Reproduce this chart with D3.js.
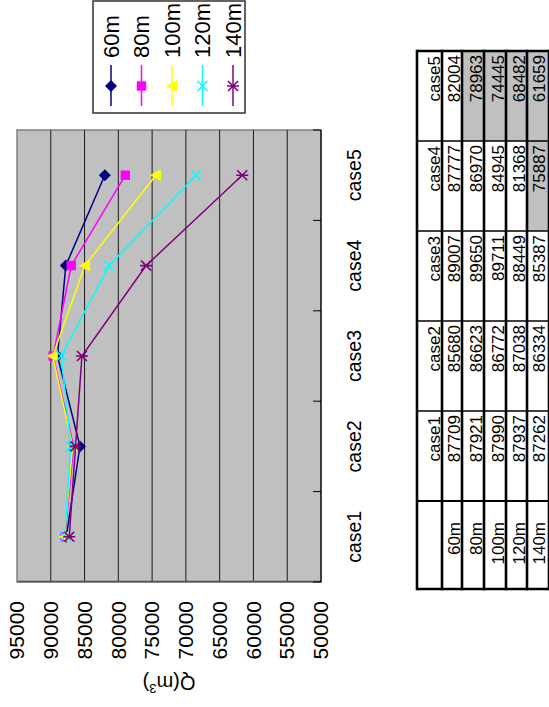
<!DOCTYPE html>
<html>
<head>
<meta charset="utf-8">
<script src="https://cdn.jsdelivr.net/npm/d3@7/dist/d3.min.js"></script>
<style>
  html, body { margin: 0; padding: 0; background: #fff; }
  svg { display: block; font-family: "Liberation Sans", Arial, sans-serif; }
</style>
</head>
<body>
<svg id="chart" width="549" height="707"></svg>
<script>
// Discharge volume Q (m³) per case, one series per depth
const categories = ["case1", "case2", "case3", "case4", "case5"];
const seriesNames = ["60m", "80m", "100m", "120m", "140m"];
const values60m  = [87709, 85680, 89007, 87777, 82004];
const values80m  = [87921, 86623, 89650, 86970, 78963];
const values100m = [87990, 86772, 89711, 84945, 74445];
const values120m = [87937, 87038, 88449, 81368, 68482];
const values140m = [87262, 86334, 85387, 75887, 61659];
const valueTicks = [95000, 90000, 85000, 80000, 75000, 70000, 65000, 60000, 55000, 50000];
const seriesColors = ["#000080", "#FF00FF", "#FFFF00", "#00FFFF", "#800080"];
const markerKinds = ["diamond", "square", "triangle", "x", "star"];

const seriesValues = [values60m, values80m, values100m, values120m, values140m];
const series = seriesNames.map((name, i) => ({
  name, color: seriesColors[i], marker: markerKinds[i], values: seriesValues[i]
}));

// The whole sheet is laid out 707 wide x 549 tall and turned a quarter turn
const W = 707, H = 549;
const svg = d3.select("#chart");
const root = svg.append("g").attr("transform", `translate(0,${W}) rotate(-90)`);

const plot = { left: 125, right: 577, top: 17, bottom: 321 };

const x = d3.scaleBand().domain(categories).range([plot.left, plot.right]);
const y = d3.scaleLinear().domain([50000, 95000]).range([plot.bottom, plot.top]);

// plot area
root.append("rect")
  .attr("x", plot.left).attr("y", plot.top)
  .attr("width", plot.right - plot.left).attr("height", plot.bottom - plot.top)
  .attr("fill", "#C0C0C0").attr("stroke", "#808080").attr("stroke-width", 1.5);

// horizontal gridlines
root.append("g").selectAll("line")
  .data(valueTicks.filter(v => v !== 95000 && v !== 50000))
  .join("line")
  .attr("x1", plot.left).attr("x2", plot.right)
  .attr("y1", d => y(d)).attr("y2", d => y(d))
  .attr("stroke", "#1a1a1a").attr("stroke-width", 1);

// value axis labels
const yAxis = d3.axisLeft(y).tickValues(valueTicks).tickSize(0).tickPadding(19)
  .tickFormat(d3.format("d"));
const yg = root.append("g").attr("transform", `translate(${plot.left},0)`).call(yAxis);
yg.select(".domain").attr("stroke", "#505050").attr("stroke-width", 1.5);
yg.selectAll("text").attr("font-size", 21).attr("fill", "#000")
  .attr("font-family", "'Liberation Sans', Arial, sans-serif");

// category axis with inward ticks at band edges
const xg = root.append("g").attr("transform", `translate(0,${plot.bottom})`);
xg.append("line").attr("x1", plot.left).attr("x2", plot.right)
  .attr("stroke", "#000").attr("stroke-width", 1.2);
const edges = categories.map(c => x(c)).concat([x(categories[categories.length - 1]) + x.bandwidth()]);
xg.selectAll("line.tick").data(edges).join("line").attr("class", "tick")
  .attr("x1", d => d).attr("x2", d => d).attr("y1", 0).attr("y2", -8)
  .attr("stroke", "#000").attr("stroke-width", 1);
xg.selectAll("text").data(categories).join("text")
  .attr("x", d => x(d) + x.bandwidth() / 2).attr("y", 40)
  .attr("text-anchor", "middle").attr("font-size", 19.5).text(d => d);

// axis title
const title = root.append("text")
  .attr("transform", `translate(31,${(plot.top + plot.bottom) / 2}) rotate(-90)`)
  .attr("text-anchor", "middle").attr("font-size", 20);
title.append("tspan").text("Q(m");
title.append("tspan").attr("font-size", 13).attr("dy", -8).text("3");
title.append("tspan").attr("dy", 8).text(")");

// markers
function drawMarker(sel, kind, color) {
  const s = 5;
  if (kind === "diamond") {
    sel.append("path").attr("d", `M0,${-s - 1}L${s + 1},0L0,${s + 1}L${-s - 1},0Z`).attr("fill", color);
  } else if (kind === "square") {
    sel.append("rect").attr("x", -4.7).attr("y", -4.7).attr("width", 9.4).attr("height", 9.4).attr("fill", color);
  } else if (kind === "triangle") {
    sel.append("path").attr("d", `M0,-6L6,5L-6,5Z`).attr("fill", color);
  } else if (kind === "x") {
    sel.append("path").attr("d", `M${-s},${-s}L${s},${s}M${-s},${s}L${s},${-s}`)
      .attr("stroke", color).attr("stroke-width", 1.6).attr("fill", "none");
  } else if (kind === "star") {
    sel.append("path").attr("d", `M${-s},${-s}L${s},${s}M${-s},${s}L${s},${-s}M0,${-s - 1}L0,${s + 1}`)
      .attr("stroke", color).attr("stroke-width", 1.6).attr("fill", "none");
  }
}

const line = d3.line().x((d, i) => x(categories[i]) + x.bandwidth() / 2).y(d => y(d));
const sg = root.append("g").selectAll("g").data(series).join("g");
sg.append("path").attr("d", d => line(d.values)).attr("fill", "none")
  .attr("stroke", d => d.color).attr("stroke-width", 1.5);
sg.each(function (s) {
  d3.select(this).selectAll("g.m").data(s.values).join("g").attr("class", "m")
    .attr("transform", (d, i) => `translate(${x(categories[i]) + x.bandwidth() / 2},${y(d)})`)
    .each(function () { drawMarker(d3.select(this), s.marker, s.color); });
});

// legend
const legend = root.append("g");
legend.append("rect").attr("x", 594).attr("y", 93).attr("width", 112).attr("height", 152)
  .attr("fill", "#fff").attr("stroke", "#303030").attr("stroke-width", 1.5);
const legendY = d3.scalePoint().domain(seriesNames).range([111, 233]);
const li = legend.selectAll("g.item").data(series).join("g").attr("class", "item")
  .attr("transform", d => `translate(0,${legendY(d.name)})`);
li.append("line").attr("x1", 601).attr("x2", 642).attr("stroke", d => d.color).attr("stroke-width", 1.5);
li.each(function (s) {
  const m = d3.select(this).append("g").attr("transform", "translate(621,0)");
  drawMarker(m, s.marker, s.color);
});
li.append("text").attr("x", 649).attr("y", 7.5).attr("font-size", 22).text(d => d.name);

// data table
const colEdges = [118, 206, 296, 386, 476, 566, 656];
const rowEdges = [417, 442, 462, 484, 506, 527, 549];
const table = root.append("g");
table.append("rect").attr("x", colEdges[0]).attr("y", rowEdges[0])
  .attr("width", colEdges[6] - colEdges[0]).attr("height", rowEdges[6] - rowEdges[0]).attr("fill", "#fff");

// shaded cells: volumes under 80000
series.forEach((s, r) => {
  s.values.forEach((v, c) => {
    if (v < 80000) {
      table.append("rect").attr("x", colEdges[c + 1]).attr("y", rowEdges[r + 1])
        .attr("width", colEdges[c + 2] - colEdges[c + 1]).attr("height", rowEdges[r + 2] - rowEdges[r + 1])
        .attr("fill", "#C0C0C0");
    }
  });
});

colEdges.forEach((cx, i) => {
  const outer = i === 0 || i === colEdges.length - 1;
  table.append("line").attr("x1", cx).attr("x2", cx).attr("y1", rowEdges[0]).attr("y2", rowEdges[6] + 2)
    .attr("stroke", "#000").attr("stroke-width", outer ? 2.6 : (i === 1 ? 2 : 1.4));
});
rowEdges.forEach(ry => {
  table.append("line").attr("x1", colEdges[0] - 1.3).attr("x2", colEdges[6] + 1.3).attr("y1", ry).attr("y2", ry)
    .attr("stroke", "#000").attr("stroke-width", 2.6);
});

categories.forEach((c, i) => {
  table.append("text").attr("x", colEdges[i + 2] - 5).attr("y", rowEdges[1] - 2.5)
    .attr("text-anchor", "end").attr("font-size", 17).text(c);
});
series.forEach((s, r) => {
  const base = rowEdges[r + 2] - (r === series.length - 1 ? 4 : 2.5);
  table.append("text").attr("x", colEdges[1] - 21).attr("y", base)
    .attr("text-anchor", "end").attr("font-size", 17).text(s.name);
  s.values.forEach((v, c) => {
    table.append("text").attr("x", colEdges[c + 2] - 4).attr("y", base)
      .attr("text-anchor", "end").attr("font-size", 17).text(v);
  });
});
</script>
</body>
</html>
